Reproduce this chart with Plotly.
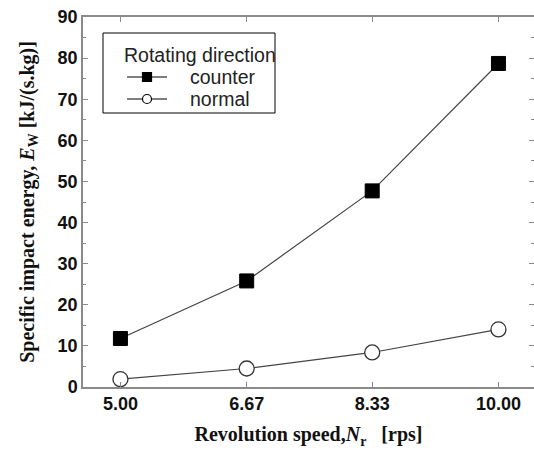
import plotly.graph_objects as go

# Revolution speed [rps]
speeds = [5.00, 6.67, 8.33, 10.00]
tick_labels = ["5.00", "6.67", "8.33", "10.00"]

# Specific impact energy E_W [kJ/(s.kg)]
counter_energy = [11.8, 25.8, 47.7, 78.7]
normal_energy = [1.9, 4.5, 8.4, 14.0]

# legend content
legend_title = "Rotating direction"
series_names = ["counter", "normal"]

LINE_COL = "#444444"
AXIS_COL = "#8a8a8a"

W, H = 534, 454
ML, MR, MT, MB = 83, 0, 17, 67
PW, PH = W - ML - MR, H - MT - MB


def px_x(x):
    return (x - ML) / PW


def px_y(y):
    return (MT + PH - y) / PH


fig = go.Figure()

fig.add_trace(go.Scatter(
    x=speeds, y=counter_energy, mode="lines+markers", name=series_names[0],
    showlegend=False,
    line=dict(color=LINE_COL, width=1.2),
    marker=dict(symbol="square", size=14, color="black",
                line=dict(color="black", width=1)),
))
fig.add_trace(go.Scatter(
    x=speeds, y=normal_energy, mode="lines+markers", name=series_names[1],
    showlegend=False,
    line=dict(color=LINE_COL, width=1.2),
    marker=dict(symbol="circle", size=15, color="white",
                line=dict(color="#333333", width=1.3)),
))

# right-hand mirrored ticks
fig.add_trace(go.Scatter(x=[None], y=[None], yaxis="y2", showlegend=False))

tick_font = dict(family="Liberation Sans, Arial", size=18, color="#111111", weight="bold")
title_font = dict(family="Liberation Serif, Times New Roman", size=20, color="#111111")
leg_font = dict(family="Liberation Sans, Arial", size=19.5, color="#222222")

# legend box drawn in paper coordinates
shapes = [dict(type="rect", xref="paper", yref="paper",
               x0=px_x(103), x1=px_x(275), y0=px_y(113), y1=px_y(33),
               line=dict(color="black", width=1), fillcolor="white", layer="above")]
annotations = [dict(text=legend_title, xref="paper", yref="paper",
                    x=px_x(122), y=px_y(55), xanchor="left", yanchor="middle",
                    showarrow=False, font=leg_font)]
rows = [77, 99]
for name, row, sym in zip(series_names, rows, ["square", "circle"]):
    shapes.append(dict(type="line", xref="paper", yref="paper",
                       x0=px_x(127), x1=px_x(167), y0=px_y(row), y1=px_y(row),
                       line=dict(color="black", width=1.2), layer="above"))
    shape_type = "rect" if sym == "square" else "circle"
    fill = "black" if sym == "square" else "white"
    shapes.append(dict(type=shape_type, xref="paper", yref="paper",
                       x0=px_x(142.5), x1=px_x(151.5),
                       y0=px_y(row + 4.5), y1=px_y(row - 4.5),
                       line=dict(color="black", width=1.2), fillcolor=fill,
                       layer="above"))
    annotations.append(dict(text=name, xref="paper", yref="paper",
                            x=px_x(188), y=px_y(row), xanchor="left",
                            yanchor="middle", showarrow=False, font=leg_font))

fig.update_layout(
    width=W, height=H,
    margin=dict(l=ML, r=MR, t=MT, b=MB, autoexpand=False),
    paper_bgcolor="white", plot_bgcolor="white",
    showlegend=False,
    shapes=shapes, annotations=annotations,
    xaxis=dict(
        range=[4.505, 10.47], tickvals=speeds, ticktext=tick_labels,
        showgrid=False, zeroline=False, automargin=False,
        showline=True, linecolor=AXIS_COL, linewidth=1.5, mirror="ticks",
        ticks="inside", ticklen=5, tickcolor=AXIS_COL, tickwidth=1,
        tickfont=tick_font,
        title=dict(text="<b>Revolution speed,<i>N</i><sub>r</sub>   [rps]</b>",
                   font=title_font, standoff=14),
    ),
    yaxis=dict(
        range=[0, 90], tickvals=list(range(0, 91, 10)),
        showgrid=False, zeroline=False, automargin=False,
        showline=True, linecolor=AXIS_COL, linewidth=1.5,
        ticks="inside", ticklen=5, tickcolor=AXIS_COL, tickwidth=1,
        minor=dict(tickvals=list(range(5, 90, 10)), ticks="inside",
                   ticklen=3, tickcolor=AXIS_COL, showgrid=False),
        tickfont=tick_font,
        title=dict(text="<b>Specific impact energy, <i>E</i><sub>W</sub> [kJ/(s.kg)]</b>",
                   font=title_font, standoff=18),
    ),
    yaxis2=dict(
        overlaying="y", side="right", range=[0, 90], automargin=False,
        tickvals=list(range(0, 91, 10)), showticklabels=False,
        showgrid=False, zeroline=False, showline=False,
        ticks="inside", ticklen=5, tickcolor=AXIS_COL,
        minor=dict(tickvals=list(range(5, 90, 10)), ticks="inside",
                   ticklen=3, tickcolor=AXIS_COL, showgrid=False),
    ),
)

fig.write_html("out.html")
